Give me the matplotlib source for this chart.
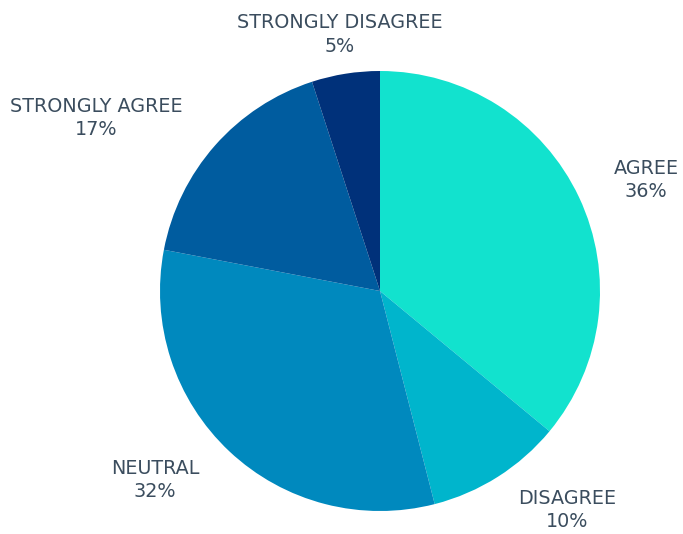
import numpy as np
import matplotlib.pyplot as plt

labels = ["AGREE", "DISAGREE", "NEUTRAL", "STRONGLY AGREE", "STRONGLY DISAGREE"]
values = [36, 10, 32, 17, 5]
colors = ["#12e2ce", "#00b5cc", "#0089be", "#005c9f", "#00317a"]

# label placement (angle in degrees, distance in radii)
label_pos = [(22.6, 1.31), (-49.4, 1.31), (-140.0, 1.335), (148.6, 1.51), (99.0, 1.18)]

fig = plt.figure(figsize=(6.83, 5.34), dpi=100)
ax = fig.add_axes([0, 0, 1, 1])

wedges, texts = ax.pie(values, colors=colors, startangle=90, counterclock=False,
                       labels=[f"{l}\n{v}%" for l, v in zip(labels, values)],
                       labeldistance=1.3,
                       wedgeprops=dict(linewidth=0),
                       textprops=dict(color="#3b4d5e", fontsize=13.8, ha="center",
                                      va="center", linespacing=1.3))

for t, (ang, r) in zip(texts, label_pos):
    a = np.deg2rad(ang)
    t.set_position((r * np.cos(a), r * np.sin(a)))
    t.set_ha("center")
    t.set_va("center")

ax.set_xlim(-380 / 220, 303 / 220)
ax.set_ylim(-243 / 220, 291 / 220)
ax.set_aspect("equal")
ax.axis("off")

fig.savefig("out.png", dpi=100)
